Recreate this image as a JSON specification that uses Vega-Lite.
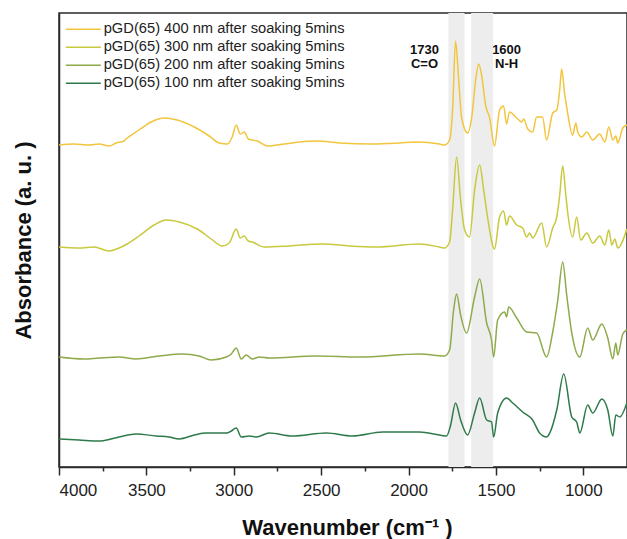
{
  "$schema": "https://vega.github.io/schema/vega-lite/v6.json",
  "autosize": {"type": "none"},
  "padding": {"left": 59, "top": 13, "right": 0, "bottom": 72},
  "width": 568,
  "height": 454,
  "background": "white",
  "config": {
    "view": {"stroke": "#2a2a2a", "strokeWidth": 1.5},
    "font": "Liberation Sans"
  },
  "datasets": {
    "bands": [
      {"from": 1772, "to": 1680},
      {"from": 1642, "to": 1516}
    ],
    "notes": [
      {"wn": 1909, "pos": 417, "label": "1730\nC=O"},
      {"wn": 1439, "pos": 417, "label": "1600\nN-H"}
    ],
    "spectra": [
      {"film": "400", "wn": 4000, "a": 322}, {"film": "400", "wn": 3914, "a": 323}, {"film": "400", "wn": 3828, "a": 322}, {"film": "400", "wn": 3771, "a": 323}, {"film": "400", "wn": 3714, "a": 321}, {"film": "400", "wn": 3673, "a": 324}, {"film": "400", "wn": 3628, "a": 326}, {"film": "400", "wn": 3616, "a": 328}, {"film": "400", "wn": 3542, "a": 337}, {"film": "400", "wn": 3473, "a": 345}, {"film": "400", "wn": 3398, "a": 349}, {"film": "400", "wn": 3324, "a": 347}, {"film": "400", "wn": 3226, "a": 340}, {"film": "400", "wn": 3140, "a": 331}, {"film": "400", "wn": 3083, "a": 324}, {"film": "400", "wn": 3037, "a": 323}, {"film": "400", "wn": 3009, "a": 330}, {"film": "400", "wn": 2986, "a": 342}, {"film": "400", "wn": 2963, "a": 333}, {"film": "400", "wn": 2940, "a": 335}, {"film": "400", "wn": 2917, "a": 328}, {"film": "400", "wn": 2894, "a": 327}, {"film": "400", "wn": 2866, "a": 326}, {"film": "400", "wn": 2808, "a": 321}, {"film": "400", "wn": 2711, "a": 323}, {"film": "400", "wn": 2625, "a": 325}, {"film": "400", "wn": 2527, "a": 326}, {"film": "400", "wn": 2396, "a": 324}, {"film": "400", "wn": 2207, "a": 323}, {"film": "400", "wn": 2052, "a": 324}, {"film": "400", "wn": 1954, "a": 325}, {"film": "400", "wn": 1823, "a": 323}, {"film": "400", "wn": 1794, "a": 322}, {"film": "400", "wn": 1765, "a": 327}, {"film": "400", "wn": 1748, "a": 357}, {"film": "400", "wn": 1731, "a": 426}, {"film": "400", "wn": 1713, "a": 387}, {"film": "400", "wn": 1696, "a": 349}, {"film": "400", "wn": 1662, "a": 334}, {"film": "400", "wn": 1639, "a": 349}, {"film": "400", "wn": 1616, "a": 387}, {"film": "400", "wn": 1599, "a": 403}, {"film": "400", "wn": 1582, "a": 392}, {"film": "400", "wn": 1559, "a": 362}, {"film": "400", "wn": 1536, "a": 349}, {"film": "400", "wn": 1508, "a": 321}, {"film": "400", "wn": 1479, "a": 357}, {"film": "400", "wn": 1456, "a": 361}, {"film": "400", "wn": 1439, "a": 343}, {"film": "400", "wn": 1422, "a": 355}, {"film": "400", "wn": 1381, "a": 349}, {"film": "400", "wn": 1353, "a": 345}, {"film": "400", "wn": 1341, "a": 348}, {"film": "400", "wn": 1318, "a": 338}, {"film": "400", "wn": 1290, "a": 335}, {"film": "400", "wn": 1267, "a": 350}, {"film": "400", "wn": 1233, "a": 350}, {"film": "400", "wn": 1210, "a": 327}, {"film": "400", "wn": 1175, "a": 354}, {"film": "400", "wn": 1152, "a": 357}, {"film": "400", "wn": 1135, "a": 377}, {"film": "400", "wn": 1124, "a": 398}, {"film": "400", "wn": 1106, "a": 372}, {"film": "400", "wn": 1095, "a": 360}, {"film": "400", "wn": 1061, "a": 332}, {"film": "400", "wn": 1043, "a": 344}, {"film": "400", "wn": 1032, "a": 335}, {"film": "400", "wn": 1009, "a": 330}, {"film": "400", "wn": 980, "a": 335}, {"film": "400", "wn": 946, "a": 327}, {"film": "400", "wn": 906, "a": 333}, {"film": "400", "wn": 877, "a": 325}, {"film": "400", "wn": 854, "a": 340}, {"film": "400", "wn": 831, "a": 327}, {"film": "400", "wn": 814, "a": 331}, {"film": "400", "wn": 803, "a": 324}, {"film": "400", "wn": 774, "a": 339}, {"film": "400", "wn": 751, "a": 342},

      {"film": "300", "wn": 4000, "a": 220}, {"film": "300", "wn": 3885, "a": 219}, {"film": "300", "wn": 3799, "a": 220}, {"film": "300", "wn": 3714, "a": 216}, {"film": "300", "wn": 3656, "a": 219}, {"film": "300", "wn": 3610, "a": 223}, {"film": "300", "wn": 3542, "a": 231}, {"film": "300", "wn": 3456, "a": 242}, {"film": "300", "wn": 3387, "a": 247}, {"film": "300", "wn": 3312, "a": 245}, {"film": "300", "wn": 3209, "a": 238}, {"film": "300", "wn": 3129, "a": 228}, {"film": "300", "wn": 3066, "a": 221}, {"film": "300", "wn": 3026, "a": 224}, {"film": "300", "wn": 2986, "a": 238}, {"film": "300", "wn": 2963, "a": 229}, {"film": "300", "wn": 2940, "a": 231}, {"film": "300", "wn": 2917, "a": 226}, {"film": "300", "wn": 2894, "a": 225}, {"film": "300", "wn": 2825, "a": 220}, {"film": "300", "wn": 2682, "a": 221}, {"film": "300", "wn": 2493, "a": 223}, {"film": "300", "wn": 2338, "a": 221}, {"film": "300", "wn": 2184, "a": 220}, {"film": "300", "wn": 1937, "a": 223}, {"film": "300", "wn": 1823, "a": 220}, {"film": "300", "wn": 1794, "a": 219}, {"film": "300", "wn": 1765, "a": 225}, {"film": "300", "wn": 1748, "a": 257}, {"film": "300", "wn": 1725, "a": 310}, {"film": "300", "wn": 1702, "a": 267}, {"film": "300", "wn": 1679, "a": 237}, {"film": "300", "wn": 1651, "a": 230}, {"film": "300", "wn": 1622, "a": 277}, {"film": "300", "wn": 1593, "a": 302}, {"film": "300", "wn": 1570, "a": 277}, {"film": "300", "wn": 1548, "a": 250}, {"film": "300", "wn": 1508, "a": 218}, {"film": "300", "wn": 1479, "a": 250}, {"film": "300", "wn": 1456, "a": 256}, {"film": "300", "wn": 1439, "a": 242}, {"film": "300", "wn": 1422, "a": 251}, {"film": "300", "wn": 1381, "a": 242}, {"film": "300", "wn": 1347, "a": 239}, {"film": "300", "wn": 1324, "a": 230}, {"film": "300", "wn": 1307, "a": 234}, {"film": "300", "wn": 1290, "a": 229}, {"film": "300", "wn": 1238, "a": 244}, {"film": "300", "wn": 1210, "a": 220}, {"film": "300", "wn": 1175, "a": 239}, {"film": "300", "wn": 1152, "a": 250}, {"film": "300", "wn": 1135, "a": 272}, {"film": "300", "wn": 1118, "a": 301}, {"film": "300", "wn": 1100, "a": 272}, {"film": "300", "wn": 1089, "a": 254}, {"film": "300", "wn": 1061, "a": 230}, {"film": "300", "wn": 1038, "a": 250}, {"film": "300", "wn": 1015, "a": 227}, {"film": "300", "wn": 980, "a": 234}, {"film": "300", "wn": 946, "a": 224}, {"film": "300", "wn": 906, "a": 231}, {"film": "300", "wn": 877, "a": 222}, {"film": "300", "wn": 854, "a": 237}, {"film": "300", "wn": 837, "a": 222}, {"film": "300", "wn": 820, "a": 228}, {"film": "300", "wn": 803, "a": 219}, {"film": "300", "wn": 751, "a": 238},

      {"film": "200", "wn": 4000, "a": 110}, {"film": "200", "wn": 3857, "a": 108}, {"film": "200", "wn": 3771, "a": 109}, {"film": "200", "wn": 3656, "a": 110}, {"film": "200", "wn": 3559, "a": 108}, {"film": "200", "wn": 3427, "a": 111}, {"film": "200", "wn": 3295, "a": 113}, {"film": "200", "wn": 3198, "a": 111}, {"film": "200", "wn": 3129, "a": 107}, {"film": "200", "wn": 3043, "a": 110}, {"film": "200", "wn": 3014, "a": 113}, {"film": "200", "wn": 2986, "a": 119}, {"film": "200", "wn": 2957, "a": 108}, {"film": "200", "wn": 2929, "a": 112}, {"film": "200", "wn": 2894, "a": 108}, {"film": "200", "wn": 2854, "a": 110}, {"film": "200", "wn": 2797, "a": 109}, {"film": "200", "wn": 2527, "a": 111}, {"film": "200", "wn": 2281, "a": 110}, {"film": "200", "wn": 1937, "a": 113}, {"film": "200", "wn": 1794, "a": 111}, {"film": "200", "wn": 1765, "a": 117}, {"film": "200", "wn": 1742, "a": 157}, {"film": "200", "wn": 1725, "a": 173}, {"film": "200", "wn": 1702, "a": 152}, {"film": "200", "wn": 1668, "a": 134}, {"film": "200", "wn": 1622, "a": 170}, {"film": "200", "wn": 1593, "a": 188}, {"film": "200", "wn": 1553, "a": 144}, {"film": "200", "wn": 1525, "a": 127}, {"film": "200", "wn": 1513, "a": 110}, {"film": "200", "wn": 1490, "a": 147}, {"film": "200", "wn": 1450, "a": 155}, {"film": "200", "wn": 1439, "a": 150}, {"film": "200", "wn": 1427, "a": 160}, {"film": "200", "wn": 1381, "a": 149}, {"film": "200", "wn": 1324, "a": 135}, {"film": "200", "wn": 1267, "a": 134}, {"film": "200", "wn": 1210, "a": 110}, {"film": "200", "wn": 1175, "a": 135}, {"film": "200", "wn": 1146, "a": 167}, {"film": "200", "wn": 1118, "a": 205}, {"film": "200", "wn": 1095, "a": 172}, {"film": "200", "wn": 1066, "a": 134}, {"film": "200", "wn": 1020, "a": 110}, {"film": "200", "wn": 975, "a": 139}, {"film": "200", "wn": 946, "a": 127}, {"film": "200", "wn": 894, "a": 143}, {"film": "200", "wn": 860, "a": 129}, {"film": "200", "wn": 831, "a": 108}, {"film": "200", "wn": 814, "a": 124}, {"film": "200", "wn": 803, "a": 112}, {"film": "200", "wn": 774, "a": 133}, {"film": "200", "wn": 751, "a": 137},

      {"film": "100", "wn": 4000, "a": 28}, {"film": "100", "wn": 3885, "a": 27}, {"film": "100", "wn": 3771, "a": 26}, {"film": "100", "wn": 3656, "a": 30}, {"film": "100", "wn": 3559, "a": 33}, {"film": "100", "wn": 3444, "a": 31}, {"film": "100", "wn": 3370, "a": 30}, {"film": "100", "wn": 3312, "a": 28}, {"film": "100", "wn": 3226, "a": 32}, {"film": "100", "wn": 3158, "a": 34}, {"film": "100", "wn": 3043, "a": 34}, {"film": "100", "wn": 3014, "a": 36}, {"film": "100", "wn": 2986, "a": 39}, {"film": "100", "wn": 2957, "a": 30}, {"film": "100", "wn": 2911, "a": 31}, {"film": "100", "wn": 2871, "a": 30}, {"film": "100", "wn": 2797, "a": 34}, {"film": "100", "wn": 2665, "a": 31}, {"film": "100", "wn": 2470, "a": 34}, {"film": "100", "wn": 2321, "a": 31}, {"film": "100", "wn": 2149, "a": 35}, {"film": "100", "wn": 1937, "a": 35}, {"film": "100", "wn": 1823, "a": 32}, {"film": "100", "wn": 1782, "a": 31}, {"film": "100", "wn": 1759, "a": 42}, {"film": "100", "wn": 1731, "a": 64}, {"film": "100", "wn": 1702, "a": 47}, {"film": "100", "wn": 1662, "a": 32}, {"film": "100", "wn": 1622, "a": 54}, {"film": "100", "wn": 1593, "a": 69}, {"film": "100", "wn": 1553, "a": 47}, {"film": "100", "wn": 1525, "a": 45}, {"film": "100", "wn": 1513, "a": 30}, {"film": "100", "wn": 1490, "a": 54}, {"film": "100", "wn": 1439, "a": 69}, {"film": "100", "wn": 1404, "a": 64}, {"film": "100", "wn": 1347, "a": 55}, {"film": "100", "wn": 1290, "a": 47}, {"film": "100", "wn": 1250, "a": 34}, {"film": "100", "wn": 1210, "a": 30}, {"film": "100", "wn": 1192, "a": 34}, {"film": "100", "wn": 1152, "a": 57}, {"film": "100", "wn": 1112, "a": 93}, {"film": "100", "wn": 1066, "a": 50}, {"film": "100", "wn": 1038, "a": 45}, {"film": "100", "wn": 1020, "a": 34}, {"film": "100", "wn": 975, "a": 62}, {"film": "100", "wn": 946, "a": 54}, {"film": "100", "wn": 894, "a": 68}, {"film": "100", "wn": 860, "a": 57}, {"film": "100", "wn": 831, "a": 31}, {"film": "100", "wn": 814, "a": 52}, {"film": "100", "wn": 791, "a": 50}, {"film": "100", "wn": 751, "a": 64}
    ]
  },
  "layer": [
    {
      "data": {"name": "bands"},
      "mark": {"type": "rect", "color": "#ededed"},
      "encoding": {
        "x": {"field": "from", "type": "quantitative", "scale": {"domain": [4000, 750], "nice": false, "zero": false}},
        "x2": {"field": "to"}
      }
    },
    {
      "data": {"name": "spectra"},
      "mark": {"type": "line", "strokeWidth": 1.5, "interpolate": "monotone"},
      "encoding": {
        "x": {
          "field": "wn", "type": "quantitative",
          "scale": {"domain": [4000, 750], "nice": false, "zero": false},
          "axis": {
            "title": "Wavenumber (cm⁻¹ )",
            "values": [4000, 3750, 3500, 3250, 3000, 2750, 2500, 2250, 2000, 1750, 1500, 1250, 1000],
            "format": "d",
            "labelExpr": "datum.value % 500 === 0 ? datum.label : ''",
            "tickSize": {"condition": {"test": "datum.value % 500 === 0", "value": 8}, "value": 4},
            "tickColor": "#2a2a2a", "tickWidth": 1.5,
            "domainColor": "#2a2a2a", "domainWidth": 1.5,
            "grid": false,
            "labelFont": "Liberation Sans", "labelFontSize": 17, "labelColor": "#222", "labelPadding": 7,
            "titleFont": "Liberation Sans", "titleFontSize": 22, "titleFontWeight": "bold", "titleColor": "#111",
            "titleX": 288, "titleY": 60, "titleBaseline": "middle"
          }
        },
        "y": {
          "field": "a", "type": "quantitative",
          "scale": {"domain": [0, 454], "nice": false, "zero": false},
          "axis": {
            "title": "Absorbance (a. u. )",
            "labels": false, "ticks": false, "grid": false,
            "domainColor": "#2a2a2a", "domainWidth": 1.5,
            "titleFont": "Liberation Sans", "titleFontSize": 22, "titleFontWeight": "bold", "titleColor": "#111",
            "titleX": -36, "titleY": 227, "titleBaseline": "middle", "titleAngle": -90, "titleAlign": "center"
          }
        },
        "color": {
          "field": "film", "type": "nominal",
          "scale": {"domain": ["400", "300", "200", "100"], "range": ["#f2c53d", "#c8c93c", "#8eaa4b", "#2f7a4b"]},
          "legend": {
            "orient": "none", "legendX": 17, "legendY": 9,
            "title": null,
            "labelExpr": "'pGD(65) ' + datum.label + ' nm after soaking 5mins'",
            "symbolType": "M-3,0H3", "symbolSize": 136, "symbolStrokeWidth": 1.5,
            "labelFont": "Liberation Sans", "labelFontSize": 14.7, "labelColor": "#222",
            "labelOffset": 13, "rowPadding": 2, "padding": 0, "labelLimit": 400
          }
        }
      }
    },
    {
      "data": {"name": "notes"},
      "mark": {"type": "text", "lineBreak": "\n", "font": "Liberation Sans", "fontWeight": "bold", "fontSize": 13, "lineHeight": 14, "align": "center", "baseline": "middle", "color": "#111"},
      "encoding": {
        "x": {"field": "wn", "type": "quantitative"},
        "y": {"field": "pos", "type": "quantitative"},
        "text": {"field": "label"}
      }
    }
  ]
}
